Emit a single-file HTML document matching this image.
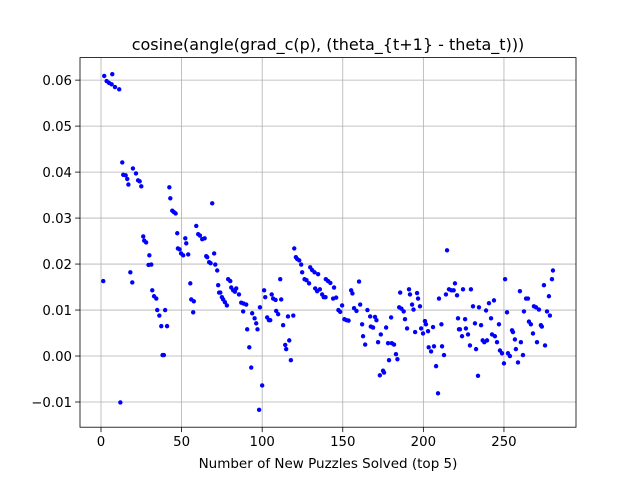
<!DOCTYPE html>
<html><head><meta charset="utf-8"><style>
body{margin:0;background:#fff;}
svg{display:block;font-family:"DejaVu Sans","Liberation Sans",sans-serif;}
</style></head><body>
<svg id="chart" width="640" height="480" viewBox="0 0 640 480" xmlns="http://www.w3.org/2000/svg">
<rect width="640" height="480" fill="#fff"/>
<g id="grid"></g>
<g id="pts"></g>
<rect x="80" y="57.6" width="496" height="369.6" fill="none" stroke="#000" stroke-width="0.8"/>
<g id="ticks"></g>
<text x="328" y="50" text-anchor="middle" font-size="16">cosine(angle(grad_c(p), (theta_{t+1} - theta_t)))</text>
<text x="328" y="468" text-anchor="middle" font-size="13.5">Number of New Puzzles Solved (top 5)</text>
</svg>
<script>
const xs=[2,7,3.5,5,6.6,8.7,11.3,13.2,13.8,15.3,16.3,17,19.8,21.7,23,24,25,42.4,43,44.2,45.2,46.3,69,1.4,18.2,19.4,26.2,26.8,28,30,29.5,31.2,31.8,32.9,34.3,34.9,39.8,36.2,37.4,41,38.2,39,12,47.3,47.7,48.7,49.7,51,52.3,52.9,54.1,55.4,56,57.6,57.2,59.1,60.3,61.4,62.8,64.3,65.3,65.9,67.1,68,70.2,70.9,72.1,72.7,73.3,74,75,75.8,76.9,78.1,78.9,80.2,80.8,82,83.1,83.9,85.6,87,88.5,90.1,88.2,90.7,92,93.2,93.8,95.3,96.3,97.1,98.1,100,98.6,101.2,101.9,103.1,104.2,105,105.9,106.8,108.3,108.7,109.9,111.2,111.8,113,114.3,114.9,116,119.3,116.8,117.8,119.9,120.9,121.7,123,124.2,124.8,126.3,127.5,129.1,129.8,131,132.5,134.7,132.9,134.1,135.8,137.2,138.2,139.3,139.5,140.9,142.3,144.6,144,145.9,147.3,148.4,149.6,151,152.3,153.6,155.2,156,157,158.5,160.1,160.8,162,162.6,163.9,165.3,167,167.4,168.8,170,170.9,171.9,173,175,175.6,173.6,176.9,178.1,180.4,181.8,178.7,180,183,183.9,185.6,185,186.4,187.8,188.6,189.9,191.1,191.7,193,193.9,194.9,196.1,196.7,197.9,198.6,199.8,201,201.6,202.9,203.3,204.8,206.6,206,207.9,209.1,209.7,211.2,211.6,212.8,214,214.7,215.9,217.4,218.8,219.6,220.9,221.5,222.1,224.6,229.5,225.9,222.7,226.4,224,227.7,228.9,230.8,234.5,232,232.7,233.9,235.8,236.8,237.8,239.5,238.9,240.7,243.8,242,242.6,244.4,245.7,246.9,247.5,248.8,250,250.7,251.9,252.5,253.7,255,255.6,256.8,257.4,258.7,259.9,260.5,261.8,262.4,263.7,264.9,265.5,266.7,268,268.6,269.9,271.7,270.5,272.9,273.5,275.5,276.7,277.9,278.5,274.8,279.8,280.4];
const ys=[0.0609,0.0613,0.0598,0.0594,0.0591,0.0585,0.058,0.0421,0.0394,0.0393,0.0385,0.0373,0.0408,0.0397,0.0382,0.038,0.0369,0.0367,0.0343,0.0316,0.0313,0.031,0.0332,0.0163,0.0182,0.016,0.026,0.0251,0.0247,0.0219,0.0198,0.0199,0.0143,0.013,0.0125,0.01,0.01,0.0088,0.0065,0.0065,0.0002,0.0002,-0.0101,0.0267,0.0234,0.0232,0.0223,0.0219,0.0256,0.0245,0.0221,0.0158,0.0123,0.0119,0.0095,0.0283,0.0265,0.0262,0.0254,0.0256,0.0217,0.0215,0.0204,0.0202,0.0223,0.0199,0.0186,0.0154,0.0138,0.0138,0.0128,0.0123,0.0117,0.011,0.0167,0.0163,0.0149,0.0143,0.014,0.0147,0.0134,0.0116,0.0114,0.0112,0.0097,0.0058,0.0019,-0.0025,0.0093,0.0082,0.0071,0.0058,-0.0117,-0.0064,0.0106,0.0143,0.0128,0.0084,0.0078,0.0078,0.0134,0.0125,0.0122,0.0098,0.0091,0.0167,0.0123,0.0067,0.0024,0.0015,0.0086,0.0088,0.0034,-0.0009,0.0234,0.0215,0.0211,0.0208,0.0199,0.0182,0.0167,0.0165,0.0158,0.0193,0.0187,0.0182,0.0178,0.0147,0.0141,0.0145,0.0134,0.0128,0.0128,0.0167,0.0163,0.0159,0.0149,0.0125,0.0127,0.01,0.0096,0.011,0.008,0.0078,0.0077,0.0143,0.0136,0.0104,0.0098,0.0162,0.0112,0.0069,0.0043,0.0025,0.01,0.0086,0.0064,0.0062,0.0085,0.0078,0.003,-0.0042,-0.0032,-0.0036,0.0047,0.0062,0.0028,0.0028,0.0025,-0.0009,0.0084,0.0004,-0.0007,0.0138,0.0106,0.0103,0.0097,0.008,0.006,0.0145,0.0134,0.0112,0.0101,0.0052,0.0137,0.0125,0.0108,0.006,0.0049,0.0076,0.0069,0.0054,0.0019,0.001,0.0021,0.0063,-0.0022,-0.0081,0.0125,0.0069,0.0021,0.0002,0.0134,0.023,0.0145,0.0143,0.0143,0.0158,0.0132,0.0082,0.0058,0.0145,0.0145,0.008,0.0058,0.006,0.0043,0.0047,0.0023,0.0108,0.0106,0.0071,0.0015,-0.0043,0.0067,0.0034,0.003,0.0034,0.0099,0.0115,0.0121,0.0082,0.0047,0.0043,0.003,0.0069,0.0012,0.0006,-0.0016,0.0167,0.0095,0.0006,0,0.0056,0.0052,0.0036,0.0015,-0.0014,0.0141,0.003,0.0002,0.0097,0.0125,0.0125,0.0075,0.0069,0.0049,0.0108,0.0106,0.0101,0.003,0.0067,0.0064,0.0023,0.0097,0.013,0.0088,0.0154,0.0167,0.0186];
const xTicks=[0,50,100,150,200,250];
const yTicks=[-0.01,0,0.01,0.02,0.03,0.04,0.05,0.06];
const yTickLabels=["−0.01","0.00","0.01","0.02","0.03","0.04","0.05","0.06"];
const X0=80,X1=576,Y0=57.6,Y1=427.2,xmin=-13.03,xmax=294.7,ymin=-0.01548,ymax=0.0649;
const sx=v=>X0+(v-xmin)/(xmax-xmin)*(X1-X0);
const sy=v=>Y1-(v-ymin)/(ymax-ymin)*(Y1-Y0);
const NS="http://www.w3.org/2000/svg";
const grid=document.getElementById('grid'),ticks=document.getElementById('ticks'),pts=document.getElementById('pts');
function mk(tag,attrs,parent){const e=document.createElementNS(NS,tag);for(const k in attrs)e.setAttribute(k,attrs[k]);parent.appendChild(e);return e;}
xTicks.forEach(t=>{const x=sx(t);
 const g=mk('line',{x1:x,x2:x,y1:Y0,y2:Y1,stroke:'#b0b0b0','stroke-width':0.8},grid);
 
 
 mk('line',{x1:x,x2:x,y1:Y1,y2:Y1+4.9,stroke:'#000','stroke-width':0.8},ticks);
 const l=mk('text',{x:x,y:Y1+19,'text-anchor':'middle','font-size':13.3},ticks);l.textContent=t;
 
 
});
yTicks.forEach((t,i)=>{const y=sy(t);
 const g=mk('line',{x1:X0,x2:X1,y1:y,y2:y,stroke:'#b0b0b0','stroke-width':0.8},grid);
 
 
 mk('line',{x1:X0-4.9,x2:X0,y1:y,y2:y,stroke:'#000','stroke-width':0.8},ticks);
 const l=mk('text',{x:X0-8,y:y+4.8,'text-anchor':'end','font-size':13.3},ticks);l.textContent=yTickLabels[i];
 
 
});
xs.forEach((v,i)=>{
 const c=mk('circle',{cx:sx(v),cy:sy(ys[i]),r:2.2,fill:'#0000ff'},pts);
 
 
});
</script>
</body></html>
